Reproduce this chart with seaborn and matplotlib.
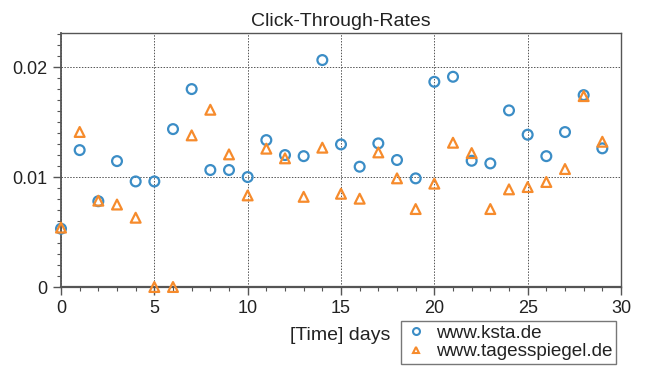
import numpy as np
import pandas as pd
import matplotlib
matplotlib.use("Agg")
import matplotlib.pyplot as plt
import seaborn as sns
from matplotlib.lines import Line2D
from matplotlib.ticker import MultipleLocator

days = list(range(30))
ksta = [0.0053, 0.01245, 0.0078, 0.01145, 0.0096, 0.0096, 0.01436, 0.0180,
        0.01064, 0.01064, 0.0100, 0.01336, 0.0120, 0.0119, 0.02064, 0.01297,
        0.01094, 0.01306, 0.01155, 0.00988, 0.01866, 0.01912, 0.01148, 0.01124,
        0.01606, 0.01385, 0.0119, 0.01409, 0.01745, 0.01261]
tagesspiegel = [0.0054, 0.0141, 0.00785, 0.0075, 0.0063, 0.0, 0.0, 0.01379,
                0.01612, 0.01206, 0.00833, 0.01258, 0.0117, 0.0082, 0.01267, 0.00848,
                0.00803, 0.01224, 0.00988, 0.00709, 0.0094, 0.01312, 0.01218, 0.00709,
                0.00888, 0.00909, 0.00955, 0.01073, 0.01736, 0.01321]
sites = ["www.ksta.de", "www.tagesspiegel.de"]
colors = ["#3b8dc6", "#f68b2c"]
markers = ["o", "^"]

df = pd.DataFrame({
    "day": days * 2,
    "ctr": ksta + tagesspiegel,
    "site": [sites[0]] * 30 + [sites[1]] * 30,
})

sns.set_style("white")
plt.rcParams["font.family"] = ["Liberation Sans", "DejaVu Sans"]

fig = plt.figure(figsize=(6.46, 3.69), dpi=100)
ax = fig.add_axes([61 / 646, 1 - 287 / 369, 560 / 646, 254 / 369])

for site, c, m in zip(sites, colors, markers):
    sns.scatterplot(data=df[df.site == site], x="day", y="ctr", color=c,
                    marker=m, s=50, ax=ax, legend=False, zorder=3, clip_on=False)

for coll, c in zip(ax.collections, colors):
    coll.set_facecolors("none")
    coll.set_edgecolors(c)
    coll.set_linewidths(1.6)

ax.set_xlim(0, 30)
ax.set_ylim(0, 0.0231)
ax.xaxis.set_major_locator(MultipleLocator(5))
ax.xaxis.set_minor_locator(MultipleLocator(1))
ax.yaxis.set_minor_locator(MultipleLocator(0.001))
ax.set_yticks([0, 0.01, 0.02], ["0", "0.01", "0.02"])
ax.tick_params(which="both", direction="out", colors="#555555", labelcolor="#222222",
               bottom=True, left=True, labelsize=13)
ax.tick_params(which="major", length=6, width=1)
ax.tick_params(which="minor", length=3, width=0.8)
ax.grid(True, which="major", linestyle=(0, (1.5, 1.5)), color="#555555", linewidth=0.7)
for sp in ax.spines.values():
    sp.set_color("#555555")
    sp.set_linewidth(1.0)
ax.spines["bottom"].set_linewidth(1.6)
ax.spines["left"].set_linewidth(1.3)

ax.set_xlabel("")
ax.set_ylabel("")
ax.set_title("Click-Through-Rates", fontsize=14, color="#222222", pad=5)
fig.text(390 / 646, 1 - 336 / 369, "[Time] days", ha="right", va="center",
         fontsize=14, color="#222222")

handles = [Line2D([], [], linestyle="none", marker=m, markersize=5,
                  markerfacecolor="none", markeredgecolor=c, markeredgewidth=1.5)
           for c, m in zip(colors, markers)]
leg = fig.legend(handles, sites, loc="upper left", bbox_to_anchor=(401 / 646, 1 - 321 / 369),
                 fontsize=13.6, frameon=True, fancybox=False, edgecolor="#555555",
                 borderpad=0.2, handletextpad=0.45, handlelength=1.2, labelspacing=0.05,
                 borderaxespad=0)
leg.get_frame().set_linewidth(1.0)
for t in leg.get_texts():
    t.set_color("#222222")

fig.savefig("out.png", dpi=100)
